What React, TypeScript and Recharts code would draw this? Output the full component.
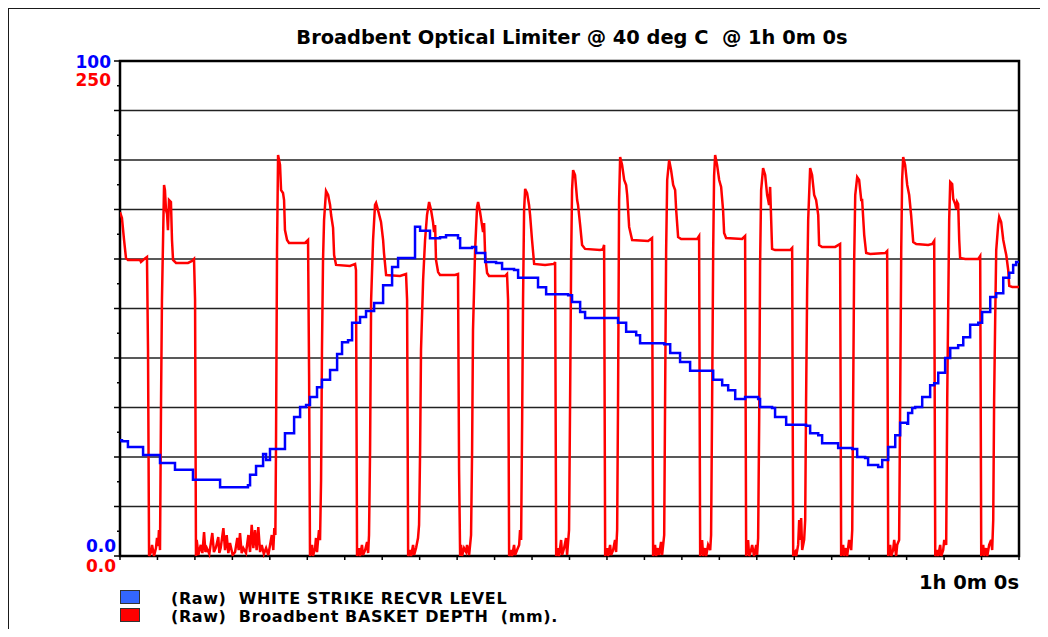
import React from 'react';
import { LineChart, Line, XAxis, YAxis, CartesianGrid, ReferenceArea } from 'recharts';

// time in minutes, value in % (white strike level) / mm (basket depth)
const whiteStrikeLevel: [number, number][] = [
  [0, 23.4], [0.13, 23.2], [0.53, 22.0], [1.34, 22.0], [1.54, 20.4], [2.54, 20.4], [2.67, 18.8], [3.47, 18.8],
  [3.67, 17.4], [4.67, 17.4], [4.87, 15.4], [6.54, 15.4], [6.68, 13.9], [8.01, 13.9], [8.54, 14.3], [8.68, 16.4],
  [9.08, 18.2], [9.48, 18.2], [9.55, 20.6], [9.75, 19.4], [10.01, 21.6], [10.41, 21.6], [11.01, 24.8], [11.21, 24.8],
  [11.62, 28.1], [12.02, 30.1], [12.42, 30.5], [12.68, 32.1], [13.15, 34.1], [13.48, 35.6], [14.02, 37.6], [14.49, 40.8],
  [14.82, 43.2], [15.22, 43.6], [15.49, 47.1], [16.02, 48.3], [16.42, 49.5], [16.96, 51.1], [17.56, 54.7], [18.16, 58.4],
  [18.56, 60.2], [19.49, 60.2], [19.69, 66.5], [19.89, 66.5], [20.03, 65.7], [20.43, 65.7], [20.69, 64.2], [21.36, 64.4],
  [21.76, 64.8], [22.16, 64.8], [22.56, 64.2], [22.7, 62.2], [23.5, 62.4], [23.77, 61.2], [24.37, 59.4], [25.1, 59.2],
  [25.5, 58.0], [26.3, 57.8], [26.57, 56.2], [27.9, 54.3], [28.44, 52.9], [29.91, 52.7], [30.17, 51.3], [30.71, 49.3],
  [31.04, 48.1], [32.71, 48.1], [33.24, 47.1], [33.78, 45.3], [34.45, 44.6], [34.71, 43.0], [36.32, 42.8], [36.72, 41.0],
  [37.38, 39.2], [38.05, 37.4], [39.39, 37.4], [39.59, 35.6], [40.19, 34.5], [40.59, 33.5], [41.06, 31.7], [41.72, 32.1],
  [42.59, 31.7], [42.72, 30.1], [43.52, 29.9], [43.72, 28.1], [44.46, 26.5], [45.79, 26.3], [46.06, 24.8], [46.6, 24.4],
  [46.86, 22.8], [47.6, 22.8], [47.93, 21.8], [48.87, 21.6], [49.2, 20.0], [49.73, 19.8], [49.93, 18.4], [50.6, 18.0],
  [50.87, 19.4], [51.27, 22.0], [51.74, 24.4], [52.07, 26.9], [52.54, 26.7], [52.6, 28.9], [52.87, 29.9], [53.07, 30.1],
  [53.54, 32.1], [54.07, 34.5], [54.34, 34.9], [54.61, 37.0], [55.07, 40.0], [55.41, 42.0], [55.94, 42.6], [56.28, 44.2],
  [56.74, 46.7], [57.28, 47.1], [57.54, 49.3], [58.08, 52.3], [58.48, 53.1], [58.95, 56.2], [59.35, 57.2], [59.61, 58.8],
  [59.81, 59.4], [60, 59.4],
];

const basketDepth: [number, number][] = [
  [0, 173.7], [0.13, 170.7], [0.27, 159.6], [0.4, 150.5], [0.53, 149.5], [1.34, 149.5], [1.4, 148.5], [1.54, 149.5], [1.8, 151], [1.87, 104], [1.94, 0],
  [2.07, 2], [2.14, 5.6], [2.27, 0], [2.4, 4], [2.47, 9.1], [2.54, 5], [2.6, 13.1], [2.67, 3],
  [2.74, 78.8], [2.8, 129.3], [2.94, 187.4], [3, 184.8], [3.07, 174.7], [3.14, 172.7], [3.2, 164.6], [3.27, 179.8], [3.4, 178.8], [3.47, 159.6], [3.54, 149.5], [3.74, 148], [4.54, 148], [4.81, 149], [4.94, 150], [5.01, 129.3], [5.07, 0],
  [5.12, 8.1], [5.23, 0.5], [5.39, 5.6], [5.5, 1.5], [5.61, 12.1], [5.7, 2], [5.79, 4], [5.96, 1], [6.16, 11.6], [6.27, 2], [6.41, 4.5], [6.56, 9.6], [6.63, 1.5], [6.72, 4], [6.9, 14.1], [7.01, 3], [7.12, 10.6], [7.23, 1.5], [7.34, 6.6], [7.52, 0.5], [7.68, 2], [7.83, 9.1], [7.92, 3], [8.01, 11.6], [8.12, 1.5], [8.23, 4], [8.41, 1.5], [8.57, 10.6], [8.68, 2], [8.79, 15.7], [8.9, 4], [9.01, 13.1], [9.12, 3], [9.23, 14.6], [9.35, 2], [9.46, 5.6], [9.6, 1], [9.75, 4], [9.9, 0.5], [10.13, 10.6], [10.23, 3], [10.3, 14.1], [10.37, 10.6],
  [10.41, 53.5], [10.48, 154.5], [10.55, 202.5], [10.68, 197.5], [10.75, 184.8], [10.88, 183.3], [10.95, 179.8], [11.01, 164.6], [11.15, 159.6], [11.28, 158.1], [12.35, 158.1], [12.55, 159.6], [12.62, 91.4], [12.68, 0],
  [12.82, 5.6], [12.88, 0], [13.02, 4], [13.08, 9.1], [13.15, 2], [13.22, 8.1], [13.28, 13.1], [13.35, 8],
  [13.42, 38.4], [13.48, 104], [13.55, 149.5], [13.62, 169.7], [13.75, 184.3], [13.89, 182.3], [14.02, 177.3], [14.09, 172.2], [14.22, 165.7], [14.29, 152], [14.42, 147], [15.35, 146.5], [15.69, 147.5], [15.75, 144.4], [15.82, 0],
  [15.95, 4], [16.02, 0], [16.15, 5.6], [16.22, 0.5], [16.36, 3], [16.49, 7.1], [16.56, 1.5], [16.62, 10.6],
  [16.69, 53.5], [16.76, 129.3], [16.89, 159.6], [17.02, 177.3], [17.09, 178.3], [17.22, 174.7], [17.42, 168.7], [17.56, 159.6], [17.62, 153], [17.76, 141.9], [18.69, 141.4], [19.09, 142.4], [19.16, 129.3], [19.23, 0],
  [19.36, 3], [19.43, 0], [19.56, 5.6], [19.63, 0.5], [19.76, 4], [19.89, 9.1], [19.96, 15.7],
  [20.03, 53.5], [20.09, 104], [20.23, 139.4], [20.36, 159.6], [20.49, 172.2], [20.63, 178.8], [20.76, 174.7], [20.89, 168.7], [20.96, 163.6], [21.03, 167.2], [21.09, 149.5], [21.23, 143.4], [21.36, 141.9], [22.36, 141.9], [22.56, 142.4], [22.63, 43.4], [22.7, 0],
  [22.76, 5.6], [22.83, 0], [22.96, 4], [23.1, 2], [23.16, 5.6], [23.3, 0.5], [23.43, 10.6],
  [23.5, 53.5], [23.56, 114.1], [23.7, 154.5], [23.83, 176.3], [23.9, 178.8], [24.03, 173.7], [24.16, 167.2], [24.23, 163.6], [24.3, 168.2], [24.37, 152], [24.5, 142.9], [24.63, 141.4], [25.7, 141.4], [25.83, 142.4], [25.9, 129.3], [25.97, 0],
  [26.1, 3], [26.17, 0], [26.3, 5.6], [26.37, 0.5], [26.5, 3], [26.64, 5.6], [26.7, 13.1], [26.77, 8.1],
  [26.84, 68.7], [26.9, 129.3], [26.97, 174.7], [27.04, 185.4], [27.17, 183.3], [27.3, 177.3], [27.37, 172.2], [27.5, 159.6], [27.64, 147.5], [28.37, 147], [28.97, 147.5], [29.04, 148.5], [29.11, 0],
  [29.24, 4], [29.3, 0], [29.44, 8.1], [29.51, 0.5], [29.64, 4], [29.77, 9.1], [29.84, 0.5], [29.97, 13.1],
  [30.04, 78.8], [30.11, 149.5], [30.17, 184.8], [30.24, 194.9], [30.37, 192.4], [30.51, 179.8], [30.57, 177.3], [30.71, 167.2], [30.84, 157.1], [31.04, 155.1], [32.04, 154.5], [32.24, 155.1], [32.31, 157.1], [32.38, 0],
  [32.51, 4], [32.58, 0], [32.71, 5.6], [32.78, 0.5], [32.91, 3], [33.04, 8.1], [33.11, 2], [33.18, 13.1],
  [33.24, 78.8], [33.31, 179.8], [33.38, 201.5], [33.51, 197.5], [33.65, 189.9], [33.78, 187.4], [33.85, 182.3], [33.98, 166.2], [34.18, 159.6], [35.25, 159.1], [35.51, 160.6], [35.58, 0],
  [35.71, 5.6], [35.78, 0], [35.91, 4], [35.98, 0.5], [36.11, 7.1], [36.18, 0.5], [36.32, 10.6],
  [36.38, 78.8], [36.45, 154.5], [36.52, 189.9], [36.65, 200], [36.78, 194.9], [36.92, 187.4], [37.05, 184.8], [37.12, 174.7], [37.25, 161.1], [37.45, 160.1], [38.52, 160.1], [38.65, 161.6], [38.72, 0],
  [38.85, 8.1], [38.92, 0], [39.05, 4], [39.12, 0], [39.25, 5.6], [39.39, 3], [39.45, 10.6],
  [39.52, 78.8], [39.59, 154.5], [39.65, 191.9], [39.72, 202.5], [39.85, 197.5], [39.99, 189.9], [40.12, 186.4], [40.25, 174.7], [40.32, 163.1], [40.45, 160.6], [41.52, 160.1], [41.72, 161.6], [41.79, 0],
  [41.92, 8.1], [41.99, 0], [42.12, 3], [42.19, 5.6], [42.32, 0], [42.46, 5.6], [42.52, 0.5], [42.59, 9.1],
  [42.66, 68.7], [42.72, 147], [42.79, 184.8], [42.92, 195.9], [43.06, 192.4], [43.19, 182.3], [43.26, 179.8], [43.32, 177.3], [43.39, 186.4], [43.46, 169.7], [43.52, 155.1], [43.72, 154.5], [44.73, 154.5], [44.86, 155.6], [44.93, 0],
  [45.06, 2], [45.13, 0], [45.26, 5.6], [45.33, 18.2], [45.39, 8.1], [45.46, 19.2], [45.53, 3], [45.66, 8.1], [45.73, 18.2],
  [45.79, 78.8], [45.86, 134.3], [45.93, 169.7], [46.06, 195.9], [46.19, 192.4], [46.33, 182.3], [46.46, 179.8], [46.6, 172.2], [46.66, 157.1], [46.86, 156.1], [47.73, 156.1], [48.06, 157.6], [48.13, 0],
  [48.26, 5.6], [48.33, 0], [48.46, 4], [48.53, 0], [48.66, 8.1], [48.8, 3], [48.87, 13.1],
  [48.93, 78.8], [49, 149.5], [49.07, 182.3], [49.2, 191.4], [49.33, 189.9], [49.47, 179.8], [49.53, 179.8], [49.67, 162.1], [49.8, 153], [50.07, 152.5], [51.07, 153], [51.2, 154], [51.27, 0],
  [51.4, 5.6], [51.47, 0], [51.6, 3], [51.67, 8.1], [51.8, 0], [51.87, 5.6], [52, 8.1],
  [52.07, 78.8], [52.14, 154.5], [52.2, 189.9], [52.27, 201.5], [52.4, 197.5], [52.54, 187.4], [52.67, 182.3], [52.8, 172.2], [52.94, 158.6], [53.14, 157.6], [53.94, 157.1], [54.21, 157.6], [54.34, 159.1], [54.41, 0],
  [54.54, 3], [54.61, 0], [54.74, 5.6], [54.81, 0], [54.94, 3], [55.01, 8.1], [55.14, 5.6],
  [55.21, 78.8], [55.28, 129.3], [55.34, 169.7], [55.41, 188.9], [55.54, 187.9], [55.61, 180.3], [55.74, 177.8], [55.81, 175.3], [55.87, 178.8], [55.94, 177.8], [56.01, 159.6], [56.07, 150.5], [56.41, 150], [57.28, 150], [57.41, 151.5], [57.48, 0],
  [57.61, 5.6], [57.68, 0], [57.81, 4], [57.88, 0], [58.01, 5.6], [58.14, 8.1], [58.21, 3], [58.28, 18.2],
  [58.34, 78.8], [58.41, 119.2], [58.48, 154.5], [58.61, 167.2], [58.68, 171.2], [58.81, 168.7], [58.95, 159.6], [59.08, 154.5], [59.15, 152], [59.28, 144.4], [59.35, 136.4], [59.55, 135.9], [60, 135.9],
];

const seriesNames = ['(Raw)  WHITE STRIKE RECVR LEVEL', '(Raw)  Broadbent BASKET DEPTH  (mm).'];
const title = 'Broadbent Optical Limiter @ 40 deg C  @ 1h 0m 0s';
const timeLabel = '1h 0m 0s';

const xTicks = [0, 2.5, 5, 7.5, 10, 12.5, 15, 17.5, 20, 22.5, 25, 27.5, 30, 32.5, 35, 37.5, 40, 42.5, 45, 47.5, 50, 52.5, 55, 57.5, 60];
const gridValues = [0, 25, 50, 75, 100, 125, 150, 175, 200, 225, 250];
const depthTicks = [0, 12.5, 25, 37.5, 50, 62.5, 75, 87.5, 100, 112.5, 125, 137.5, 150, 162.5, 175, 187.5, 200, 212.5, 225, 237.5, 250];
const labelledDepth = [0, 250];
const levelLabels = ['0.0', '100'];
const depthLabels = ['0.0', '250'];

const BLUE = '#0000ff';
const RED = '#ff0000';
const FONT = '"DejaVu Sans", Verdana, sans-serif';

const levelData = whiteStrikeLevel.map(([t, v]) => ({ t, v }));
const depthData = basketDepth.map(([t, v]) => ({ t, v }));

const DepthTick = (props: any) => {
  const { x, y, payload } = props;
  const v = payload.value;
  const major = v % 25 === 0;
  const idx = labelledDepth.indexOf(v);
  const top = idx === 1;
  return (
    <g>
      <line x1={x - (major ? 6 : 3)} x2={x} y1={y} y2={y} stroke="#000" strokeWidth={1.5} />
      {idx >= 0 && (
        <g fontFamily={FONT} fontWeight="bold" fontSize={17} textAnchor="end" dominantBaseline="central">
          <text x={x - (top ? 9 : 4)} y={y + (top ? 1 : -10)} fill={BLUE}>{levelLabels[idx]}</text>
          <text x={x - (top ? 9 : 4)} y={y + (top ? 19 : 10)} fill={RED}>{depthLabels[idx]}</text>
        </g>
      )}
    </g>
  );
};

export default function App() {
  return (
    <div style={{ position: 'relative', width: 1032, height: 621, fontFamily: FONT }}>
      <div
        style={{
          position: 'absolute', left: -2, top: -2, width: 1042, height: 631, boxSizing: 'border-box',
          borderLeft: '3px solid #1a1a1a', borderTop: '3px solid #1a1a1a',
        }}
      />
      <div style={{ position: 'absolute', left: 0, top: 0 }}>
        <LineChart width={1032} height={621} margin={{ top: 53, right: 21, left: 0, bottom: 53 }}>
          <CartesianGrid yAxisId="depth" horizontalValues={gridValues} vertical={false} stroke="#222" strokeWidth={1.5} />
          <XAxis
            dataKey="t" type="number" domain={[0, 60]} ticks={xTicks} interval={0} allowDataOverflow
            axisLine={false} tickSize={4} tickLine={{ stroke: '#000', strokeWidth: 1.5 }} tickFormatter={() => ''} height={20}
          />
          <YAxis
            yAxisId="depth" domain={[0, 250]} ticks={depthTicks} interval={0} width={112}
            axisLine={false} tickLine={false} tickSize={0} tickMargin={0} tick={<DepthTick />}
          />
          <YAxis yAxisId="level" orientation="right" domain={[0, 100]} hide />
          <ReferenceArea yAxisId="depth" x1={0} x2={60} y1={0} y2={250} fill="none" stroke="#000" strokeWidth={2.5} ifOverflow="visible" />
          <Line yAxisId="depth" data={depthData} dataKey="v" type="linear" stroke={RED} strokeWidth={2.5} dot={false} isAnimationActive={false} />
          <Line yAxisId="level" data={levelData} dataKey="v" type="stepAfter" stroke={BLUE} strokeWidth={2.5} dot={false} isAnimationActive={false} />
        </LineChart>
      </div>
      <div style={{ position: 'absolute', left: 164, top: 18, width: 800, height: 24, lineHeight: '24px', textAlign: 'center', fontWeight: 'bold', fontSize: 19.4, whiteSpace: 'pre' }}>
        {title}
      </div>
      <div style={{ position: 'absolute', left: 811, top: 563, width: 200, height: 24, lineHeight: '24px', textAlign: 'right', fontWeight: 'bold', fontSize: 19.5 }}>
        {timeLabel}
      </div>
      {[BLUE, RED].map((c, i) => (
        <React.Fragment key={i}>
          <div
            style={{
              position: 'absolute', left: 112, top: 582 + i * 18, width: 20, height: 14, boxSizing: 'border-box',
              background: i === 0 ? '#3366ff' : RED, border: '1.5px solid #333',
            }}
          />
          <div
            style={{
              position: 'absolute', left: 163, top: 581.7 + i * 18.6, height: 18.6, lineHeight: '18.6px',
              fontWeight: 'bold', fontSize: 16, letterSpacing: 0.6, whiteSpace: 'pre', color: '#000',
            }}
          >
            {seriesNames[i]}
          </div>
        </React.Fragment>
      ))}
    </div>
  );
}
